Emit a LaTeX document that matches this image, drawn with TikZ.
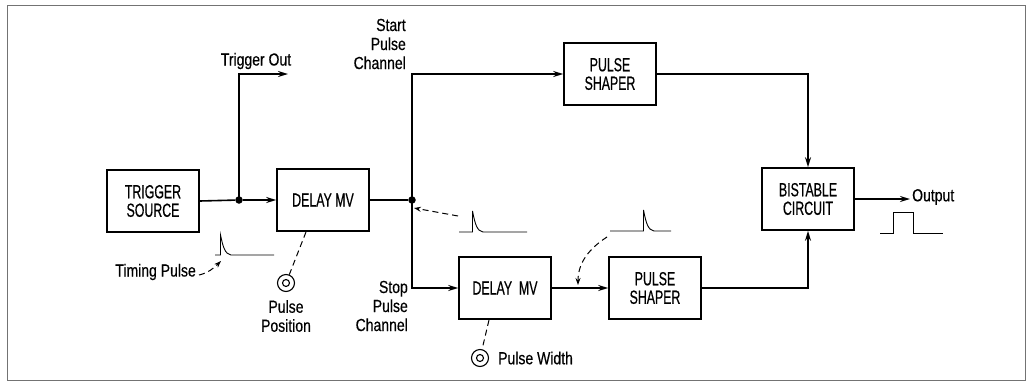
\documentclass[tikz,border=0pt]{standalone}
\usepackage{fontspec}
\setmainfont[FakeStretch=0.8,FakeBold=0.4]{Liberation Sans}
\newfontfamily\capsfont[FakeStretch=0.65,FakeBold=0.5]{Liberation Sans}
\usetikzlibrary{arrows.meta,calc}
\tikzset{
  blk/.style={draw, line width=1.6pt, minimum width=92pt, minimum height=62pt, align=center, inner sep=0pt, font=\capsfont\fontsize{19}{18.5}\selectfont},
  conn/.style={line width=1.6pt},
  arr/.style={conn, -{Stealth[length=10pt,width=6pt]}},
  lbl/.style={inner sep=0pt, font=\fontsize{17.5}{19}\selectfont},
  wave/.style={line width=0.9pt},
  dsh/.style={line width=1pt, dash pattern=on 6pt off 4pt},
  dot/.style={circle, fill, inner sep=0pt, minimum size=7.5pt},
}
\begin{document}
\begin{tikzpicture}[x=1pt,y=-1pt]
\useasboundingbox (0,0) rectangle (1030,383);
\draw[line width=0.8pt, black!55] (7,5) rectangle (1025,380);

% blocks
\node[blk] (src) at (153,201) {TRIGGER\\SOURCE};
\node[blk] (d1)  at (323,200) {DELAY MV};
\node[blk] (ps1) at (610,74) {PULSE\\SHAPER};
\node[blk] (bs)  at (808,199) {BISTABLE\\CIRCUIT};
\node[blk] (d2)  at (505,288) {DELAY\ \ MV};
\node[blk] (ps2) at (655,288) {PULSE\\SHAPER};

% junctions
\node[dot] (j1) at (239,200) {};
\node[dot] (j2) at (412,200) {};
\coordinate (tout) at (288,74);
\coordinate (outc) at (910,199);

% connectors
\draw[conn] (src.east) -- (j1);
\draw[arr] (j1) -- (d1.west);
\draw[arr] (j1.center) |- (tout);
\draw[conn] (d1.east) -- (j2);
\draw[arr] (j2.center) |- (ps1.west);
\draw[arr] (j2.center) |- (d2.west);
\draw[arr] (ps1.east) -| (bs.north);
\draw[arr] (d2.east) -- (ps2.west);
\draw[arr] (ps2.east) -| (bs.south);
\draw[arr] (bs.east) -- (outc);

% labels
\node[lbl] (lto) at (256,61) {Trigger Out};
\node[lbl, align=right, anchor=east] (lstart) at (406,44) {Start\\Pulse\\Channel};
\node[lbl, align=right, anchor=east] (lstop) at (408,306) {Stop\\Pulse\\Channel};
\node[lbl, anchor=west] (lout) at (912,197) {Output};
\node[lbl, anchor=east] (ltim) at (196,272) {Timing Pulse};

% pots
\node[circle, draw, line width=1.1pt, minimum size=17pt, inner sep=0pt] (pot1) at (286,283) {};
\node[circle, draw, line width=1.1pt, minimum size=7pt, inner sep=0pt] at (pot1.center) {};
\node[circle, draw, line width=1.1pt, minimum size=17pt, inner sep=0pt] (pot2) at (480,358) {};
\node[circle, draw, line width=1.1pt, minimum size=7pt, inner sep=0pt] at (pot2.center) {};
\node[lbl, align=center] (lpos) at (286,316) {Pulse\\Position};
\node[lbl, anchor=west] (lwid) at (498,358) {Pulse Width};
\coordinate (a1) at (306,232);
\coordinate (a2) at (489,320);
\draw[dsh] (a1) -- (pot1);
\draw[dsh] (a2) -- (pot2);

% waveforms
\draw[wave] (215,255) -- (220.5,255) -- (220.5,235) .. controls (223,247) and (225,254) .. (231,255) -- (274,255);
\draw[wave] (459,232) -- (472.5,232) -- (472.5,211) .. controls (475,224) and (477,231) .. (483,232) -- (527,232);
\draw[wave] (610,231) -- (643.5,231) -- (643.5,210) .. controls (646,223) and (648,230) .. (654,231) -- (671,231);
\draw[wave] (880,233) -- (893,233) -- (893,212) -- (913,212) -- (913,233) -- (943,233);

% dashed pointers
\coordinate (t1) at (199,275);
\coordinate (t1e) at (221,261);
\draw[dsh, -{Stealth[length=7pt,width=5pt]}] (t1) .. controls (208,273) and (214,268) .. (t1e);
\coordinate (t2) at (458,216);
\coordinate (t2e) at (414,208);
\draw[dsh, -{Stealth[length=7pt,width=5pt]}] (t2) -- (t2e);
\coordinate (t3) at (607,237);
\coordinate (t3e) at (578,285);
\draw[dsh, -{Stealth[length=7pt,width=5pt]}] (t3) .. controls (590,248) and (578,262) .. (t3e);
\end{tikzpicture}
\end{document}
